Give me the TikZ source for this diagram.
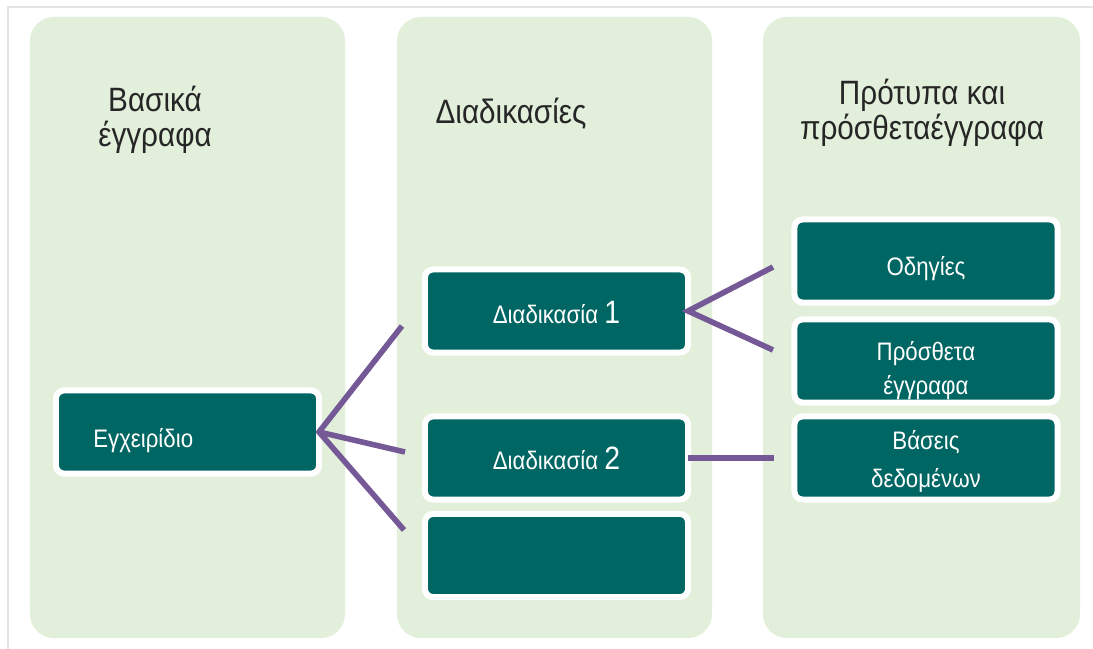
\documentclass[tikz,border=0pt]{standalone}
\usepackage{fontspec}
\setmainfont[FakeStretch=0.88]{Liberation Sans}
\usetikzlibrary{positioning}
\definecolor{paleGreen}{RGB}{226,239,218}
\definecolor{deepTeal}{RGB}{0,102,99}
\definecolor{linkPurple}{RGB}{117,88,150}
\definecolor{titleGray}{RGB}{38,38,38}
\definecolor{frameGray}{RGB}{228,228,228}

\begin{document}
\begin{tikzpicture}[x=0.025cm, y=-0.025cm,
  column/.style={fill=paleGreen, rounded corners=0.6cm, minimum width=7.875cm, minimum height=15.525cm, inner sep=0pt},
  title/.style={text=titleGray, font=\fontsize{24}{25}\selectfont, align=center},
  docbox/.style={fill=deepTeal, draw=white, line width=0.15cm, rounded corners=0.2cm, minimum width=6.575cm, minimum height=2.075cm, inner sep=0pt, outer sep=0pt},
  boxtext/.style={text=white, font=\fontsize{18}{24}\selectfont, align=center, inner sep=0pt},
  link/.style={linkPurple, line width=0.14cm}]
\useasboundingbox (0,0) rectangle (1093,649);

% Frame
\draw[frameGray, line width=0.04cm] (8,649) -- (8,7) -- (1093,7);

% Columns
\node[column] (basic) at (187.5,327.5) {};
\node[column] (procs) at (554.5,327.5) {};
\node[column, minimum width=7.925cm] (extra) at (921.5,327.5) {};

% Titles
\node[title] (basicT) at (155,120) {Βασικά\\έγγραφα};
\node[title] (procsT) at (511,114) {Διαδικασίες};
\node[title] (extraT) at (922,113) {Πρότυπα και\\πρόσθεταέγγραφα};

% Boxes
\node[docbox, label={[boxtext, anchor=west, xshift=0.925cm, yshift=-0.22cm]west:Εγχειρίδιο}] (manual) at (187.5,432) {};
\node[docbox, label={[boxtext, yshift=-0.03cm]center:Διαδικασία {\fontsize{23}{25}\selectfont 1}}] (proc1) at (556.5,311) {};
\node[docbox, label={[boxtext]center:Διαδικασία {\fontsize{23}{25}\selectfont 2}}] (proc2) at (556.5,458) {};
\node[docbox] (proc3) at (556.5,555.5) {};
\node[docbox, label={[boxtext, yshift=-0.2cm]center:Οδηγίες}] (guide) at (926,261) {};
\node[docbox, label={[boxtext, yshift=-0.24cm]center:Πρόσθετα\\έγγραφα}] (addDocs) at (926,361) {};
\node[docbox, label={[boxtext, font=\fontsize{18}{27}\selectfont, yshift=-0.08cm]center:Βάσεις\\δεδομένων}] (dbase) at (926,458) {};

% Links
\coordinate (m1) at (402,326);
\coordinate (m2) at (405,452);
\coordinate (m3) at (404,530);
\coordinate (p1) at (773,267);
\coordinate (p2) at (773,350);
\coordinate (p3) at (774,458);
\draw[link] (m1) -- (manual.east) -- (m3);
\draw[link] (manual.east) -- (m2);
\draw[link] (p1) -- (proc1.east) -- (p2);
\draw[link] (proc2.east) -- (p3);
\end{tikzpicture}
\end{document}
